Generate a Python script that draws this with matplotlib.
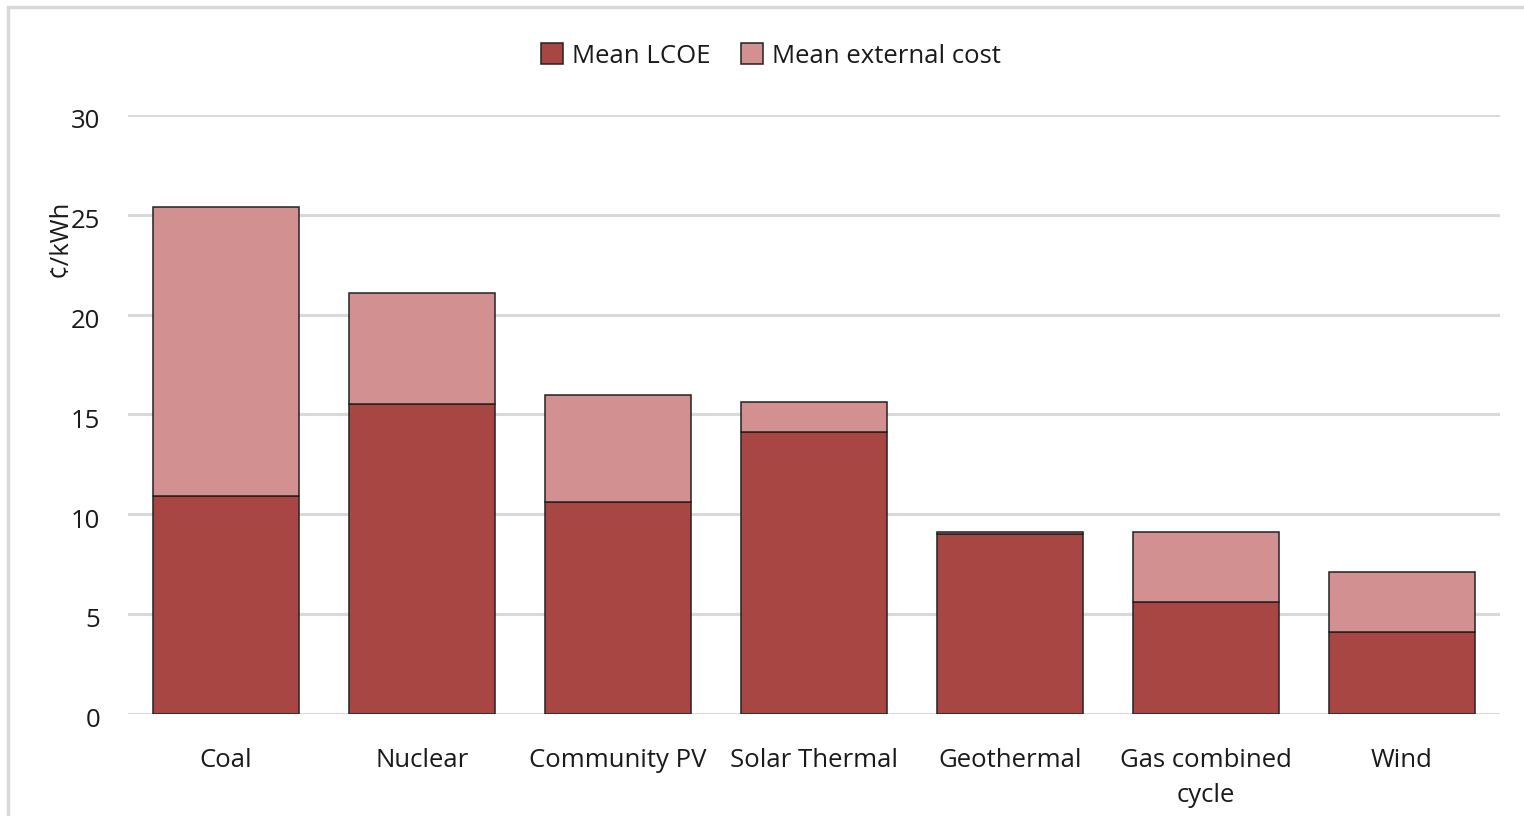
import matplotlib
matplotlib.use("Agg")
import matplotlib.pyplot as plt
import matplotlib.transforms as mtransforms
from matplotlib.patches import Rectangle, Patch
import numpy as np

categories = ["Coal", "Nuclear", "Community PV", "Solar Thermal",
              "Geothermal", "Gas combined\ncycle", "Wind"]
mean_lcoe = [10.9, 15.5, 10.6, 14.1, 9.0, 5.6, 4.1]
mean_external = [14.5, 5.6, 5.35, 1.5, 0.12, 3.5, 3.0]
y_ticks = [0, 5, 10, 15, 20, 25, 30]

LCOE_COLOR = "#A84644"
EXT_COLOR = "#D29190"
GRID_COLOR = "#D9D9D9"
TEXT_COLOR = "#1a1a1a"
FS = 18.5

plt.rcParams["font.family"] = ["Open Sans", "DejaVu Sans"]

W, H = 1524, 816
fig = plt.figure(figsize=(W / 100, H / 100), dpi=100)

# outer chart frame
fig.patches.append(Rectangle((8 / W, -0.05), 1.2, (H - 7) / H + 0.05,
                             transform=fig.transFigure, fill=False,
                             edgecolor=GRID_COLOR, linewidth=2.5, zorder=0))

ax = fig.add_axes([128 / W, (H - 713.5) / H, (1500 - 128) / W, (713.5 - 115) / H])

x = np.arange(len(categories))
width = 0.74
ax.bar(x, mean_lcoe, width, color=LCOE_COLOR, edgecolor="#222222",
       linewidth=1.1, zorder=3, label="Mean LCOE")
ax.bar(x, mean_external, width, bottom=mean_lcoe, color=EXT_COLOR,
       edgecolor="#222222", linewidth=1.1, zorder=3, label="Mean external cost")

ax.set_xlim(-0.5, len(categories) - 0.5)
ax.set_ylim(0, 30)
ax.set_yticks(y_ticks)
ax.set_yticklabels([str(t) for t in y_ticks], fontsize=FS, color=TEXT_COLOR)
ax.set_xticks(x)
ax.set_xticklabels(categories, fontsize=FS, color=TEXT_COLOR, linespacing=1.5)
ax.tick_params(axis="both", length=0)
ax.tick_params(axis="y", pad=20)
ax.tick_params(axis="x", pad=25)

# y tick numbers sit slightly below their gridlines
shift = mtransforms.ScaledTranslation(0, -4 / 100, fig.dpi_scale_trans)
for lbl in ax.get_yticklabels():
    lbl.set_transform(lbl.get_transform() + shift)

ax.yaxis.grid(True, color=GRID_COLOR, linewidth=2.2, zorder=0)
ax.set_axisbelow(True)
for s in ax.spines.values():
    s.set_visible(False)

fig.text(60 / W, (H - 238) / H, "¢/kWh", rotation=90, fontsize=FS,
         color=TEXT_COLOR, ha="center", va="center")

handles = [Patch(facecolor=LCOE_COLOR, edgecolor="#222222", linewidth=1.1),
           Patch(facecolor=EXT_COLOR, edgecolor="#222222", linewidth=1.1)]
fig.legend(handles, ["Mean LCOE", "Mean external cost"], loc="center",
           bbox_to_anchor=(771 / W, (H - 56) / H), ncol=2, frameon=False,
           fontsize=FS, handlelength=0.85, handleheight=0.85, handletextpad=0.35,
           columnspacing=1.2, labelcolor=TEXT_COLOR)

fig.savefig("out.png", dpi=100)
